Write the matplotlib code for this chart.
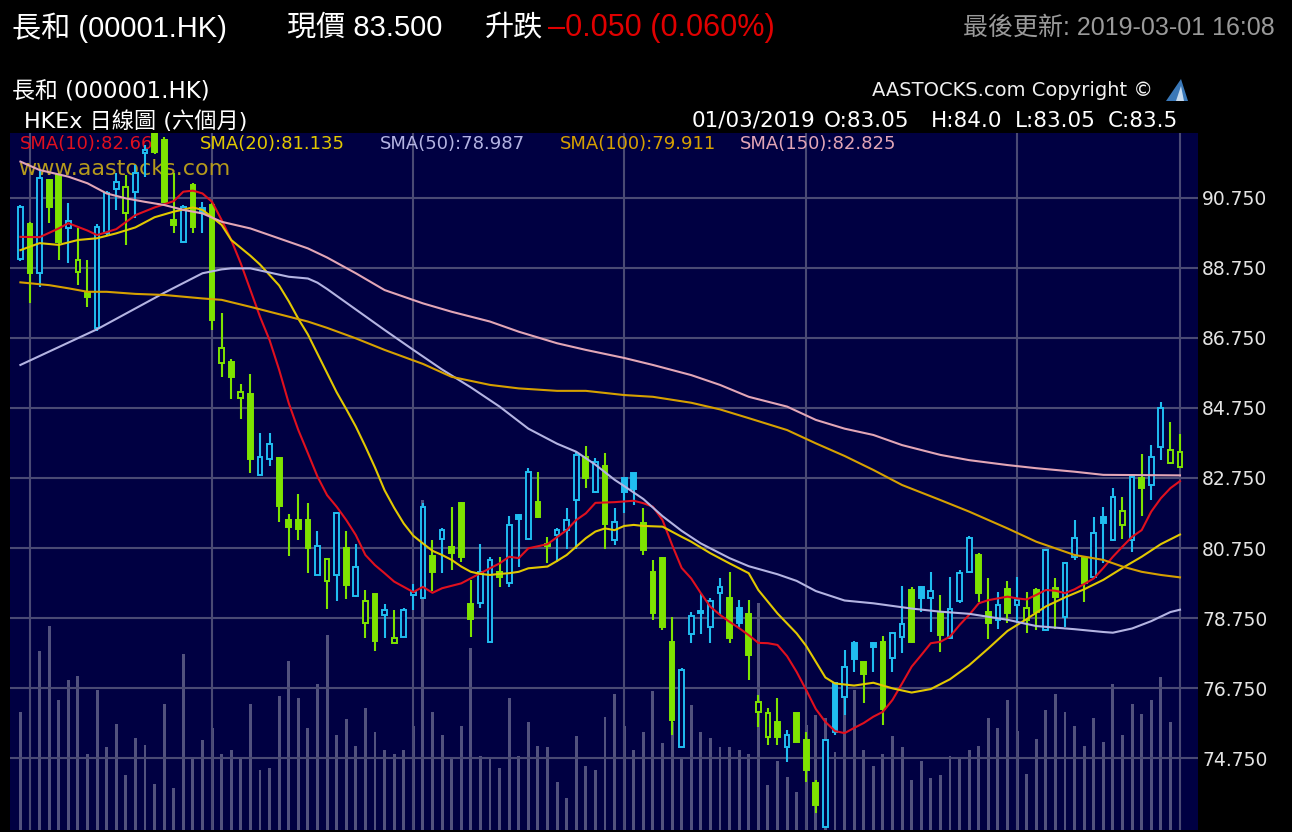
import matplotlib
matplotlib.use("Agg")
import matplotlib.pyplot as plt
from matplotlib.patches import Polygon

# daily candles 31/08/2018 .. 01/03/2019
opens = [
    89.00, 90.00, 88.60, 91.26, 91.41, 89.90, 88.64, 88.07, 87.03, 89.74,
    91.00, 90.31, 90.93, 92.03, 92.60, 92.41, 90.12, 89.50, 91.12, 90.46,
    90.55, 86.04, 86.07, 85.03, 85.15, 82.83, 83.29, 83.31, 81.55, 81.55,
    81.55, 79.98, 79.82, 79.98, 80.74, 79.38, 78.60, 79.43, 78.84, 78.03,
    78.22, 79.40, 79.31, 80.52, 81.01, 80.79, 82.04, 79.16, 79.17, 78.07,
    80.07, 79.74, 81.69, 81.00, 82.07, 80.86, 81.12, 81.26, 82.12, 83.36,
    82.36, 83.09, 80.98, 82.74, 82.88, 81.46, 80.07, 80.46, 78.07, 75.07,
    78.29, 78.95, 78.48, 79.46, 79.31, 79.03, 78.86, 76.07, 75.36, 75.79,
    75.07, 76.03, 75.26, 74.03, 72.79, 76.88, 76.50, 78.05, 77.49, 78.05,
    78.07, 77.60, 78.22, 79.55, 79.64, 79.31, 78.88, 78.17, 79.25, 80.07,
    80.55, 78.93, 78.69, 79.58, 79.12, 78.69, 79.55, 78.41, 79.61, 78.77,
    80.50, 80.46, 79.93, 81.64, 80.97, 81.41, 80.98, 82.74, 82.55, 83.64,
    83.17, 83.05,
]
highs = [
    90.55, 90.05, 91.55, 91.30, 91.45, 90.60, 89.88, 88.98, 90.00, 90.95,
    91.45, 91.41, 91.69, 92.26, 92.70, 92.50, 91.46, 90.55, 91.17, 90.64,
    90.60, 87.46, 86.15, 85.44, 85.72, 84.04, 84.04, 83.35, 81.72, 82.28,
    82.05, 81.25, 80.44, 81.76, 81.25, 80.86, 79.55, 79.43, 79.15, 78.98,
    79.05, 79.72, 82.04, 80.98, 81.33, 81.93, 82.06, 79.84, 80.86, 80.48,
    80.50, 81.66, 81.72, 83.03, 82.93, 81.07, 81.31, 81.88, 83.50, 83.66,
    83.31, 83.47, 81.88, 82.74, 82.90, 81.88, 80.41, 80.50, 78.79, 77.31,
    78.93, 79.46, 79.31, 79.88, 80.07, 79.26, 79.26, 76.55, 76.17, 76.46,
    75.55, 76.05, 75.50, 74.11, 75.30, 76.90, 77.84, 78.10, 77.50, 78.07,
    78.24, 78.36, 79.66, 79.64, 79.66, 80.07, 79.41, 79.93, 80.12, 81.08,
    80.60, 79.88, 79.50, 79.82, 79.93, 79.50, 79.60, 80.72, 79.89, 80.36,
    81.55, 80.50, 81.64, 81.93, 82.46, 82.22, 82.80, 83.44, 83.69, 84.93,
    84.36, 84.00,
]
lows = [
    88.95, 87.74, 88.22, 90.03, 88.98, 88.90, 88.26, 87.64, 86.95, 89.70,
    90.40, 89.41, 90.17, 91.36, 92.00, 90.60, 89.74, 89.45, 89.74, 89.74,
    86.98, 85.64, 85.00, 84.43, 82.88, 82.83, 83.09, 81.50, 80.52, 80.98,
    80.03, 79.98, 79.00, 79.23, 79.28, 79.34, 78.19, 77.81, 78.19, 78.03,
    78.20, 78.98, 79.31, 79.51, 80.03, 80.12, 80.36, 78.21, 79.03, 78.07,
    79.65, 79.65, 80.22, 81.00, 81.60, 80.31, 80.36, 80.73, 80.73, 82.46,
    82.31, 80.73, 80.84, 81.74, 81.98, 80.55, 78.69, 78.41, 75.41, 75.07,
    78.03, 78.30, 78.03, 78.84, 78.03, 78.46, 76.98, 75.64, 75.13, 75.13,
    74.64, 75.20, 74.07, 73.17, 72.78, 75.41, 75.98, 77.22, 76.31, 77.22,
    75.68, 77.22, 77.74, 78.03, 78.93, 78.35, 77.79, 78.17, 79.17, 80.03,
    79.22, 78.16, 78.43, 78.60, 78.60, 78.31, 78.41, 78.38, 78.44, 78.48,
    80.41, 79.22, 79.88, 80.31, 80.95, 81.00, 80.64, 81.66, 82.12, 83.26,
    83.15, 83.05,
]
closes = [
    90.50, 88.60, 91.31, 90.50, 89.50, 90.10, 88.98, 87.92, 89.93, 90.88,
    91.22, 91.07, 91.46, 92.13, 92.05, 90.64, 89.98, 90.50, 89.93, 90.31,
    87.26, 86.46, 85.64, 85.22, 83.30, 83.35, 83.71, 81.96, 81.34, 81.29,
    80.75, 80.80, 80.44, 81.76, 79.69, 80.22, 79.25, 78.09, 78.98, 78.17,
    78.98, 79.50, 81.93, 80.07, 81.26, 80.60, 80.50, 78.73, 80.07, 80.41,
    79.93, 81.41, 81.57, 82.93, 81.64, 80.82, 81.26, 81.55, 83.41, 82.74,
    83.22, 81.45, 81.50, 82.36, 82.45, 80.69, 78.88, 78.50, 75.84, 77.26,
    78.81, 78.90, 79.25, 79.64, 78.17, 78.60, 77.69, 76.36, 76.03, 75.35,
    75.40, 75.22, 74.41, 73.41, 75.26, 75.49, 77.36, 77.57, 77.15, 77.93,
    76.16, 78.31, 78.58, 78.07, 79.31, 79.53, 78.26, 79.00, 80.04, 81.03,
    79.46, 78.60, 79.12, 78.90, 79.26, 79.03, 78.93, 80.69, 79.36, 80.31,
    81.03, 79.74, 81.19, 81.46, 82.22, 81.82, 82.77, 82.47, 83.36, 84.74,
    83.55, 83.50,
]
# volume, million shares
volumes = [
    8.4, 11.4, 12.8, 14.6, 9.3, 10.7, 11.0, 5.4, 10.0, 5.9,
    7.6, 3.9, 6.6, 6.1, 3.3, 9.0, 3.0, 12.6, 5.1, 6.4,
    7.3, 5.4, 5.7, 5.1, 9.0, 4.3, 4.4, 9.6, 12.1, 9.4,
    7.3, 10.4, 13.9, 6.8, 7.9, 6.0, 8.7, 7.0, 5.7, 5.4,
    5.7, 7.4, 23.6, 8.4, 6.8, 5.1, 7.4, 13.0, 5.3, 5.1,
    4.4, 9.4, 5.3, 7.7, 6.0, 5.9, 3.4, 2.3, 6.7, 4.6,
    4.3, 8.1, 9.7, 7.4, 5.7, 7.0, 9.9, 6.2, 7.7, 5.2,
    8.9, 7.0, 6.6, 5.9, 5.9, 5.7, 5.4, 16.2, 3.2, 4.9,
    3.8, 2.7, 7.5, 8.2, 8.0, 5.6, 9.9, 10.0, 5.7, 4.6,
    5.4, 6.7, 5.9, 3.6, 4.9, 3.7, 3.9, 5.3, 5.1, 5.7,
    6.0, 8.0, 7.3, 9.3, 7.1, 4.0, 6.5, 8.6, 9.7, 8.4,
    7.4, 6.0, 8.0, 6.3, 10.4, 6.8, 9.0, 8.3, 9.3, 10.9,
    7.7, 5.9,
]

# moving averages, sampled by day index
sma10_idx = [0, 2, 4, 5, 7, 8, 10, 12, 14, 16, 17, 18, 19, 20, 21, 22, 23, 24, 25, 26,
             27, 28, 29, 30, 31, 32, 33, 34, 35, 36, 37, 38, 39, 40, 41, 42, 43, 44, 46, 48,
             50, 51, 52, 53, 55, 57, 58, 59, 60, 62, 64, 65, 66, 67, 68, 69, 70, 71, 72, 73,
             74, 75, 76, 77, 78, 79, 80, 81, 82, 83, 84, 85, 86, 87, 88, 89, 90, 91, 92, 93,
             94, 95, 96, 97, 98, 99, 100, 101, 102, 103, 104, 105, 106, 107, 108, 109, 110, 111, 112, 113,
             114, 115, 116, 117, 118, 119, 120, 121]
sma10_val = [89.64, 89.63, 89.88, 90.03, 89.82, 89.69, 89.86, 90.26, 90.48, 90.66, 90.93, 90.96, 90.88, 90.64, 90.12, 89.55, 88.88, 88.12, 87.36, 86.69,
             85.84, 84.89, 84.12, 83.46, 82.79, 82.26, 81.93, 81.55, 81.12, 80.55, 80.26, 80.03, 79.79, 79.64, 79.49, 79.64, 79.47, 79.60, 79.74, 80.03,
             80.31, 80.50, 80.46, 80.74, 80.86, 81.26, 81.55, 81.74, 82.04, 82.06, 82.10, 82.03, 81.93, 81.55, 80.84, 80.18, 79.88, 79.46, 79.07, 78.84,
             78.64, 78.46, 78.26, 78.04, 78.03, 77.98, 77.66, 77.21, 76.69, 76.15, 75.78, 75.52, 75.46, 75.61, 75.75, 75.93, 76.07, 76.41, 76.88, 77.36,
             77.69, 78.03, 78.07, 78.22, 78.55, 78.84, 79.17, 79.26, 79.31, 79.36, 79.31, 79.28, 79.41, 79.55, 79.53, 79.46, 79.57, 79.72, 79.88, 80.18,
             80.50, 80.79, 81.07, 81.26, 81.79, 82.17, 82.46, 82.66]

sma20_idx = [0, 2, 4, 6, 8, 10, 12, 14, 16, 18, 19, 20, 21, 22, 24, 25, 27, 28, 29, 30,
             31, 32, 33, 34, 35, 36, 37, 38, 39, 40, 41, 42, 43, 44, 45, 46, 47, 48, 49, 50,
             51, 52, 53, 55, 56, 57, 58, 59, 60, 61, 62, 63, 64, 65, 67, 69, 70, 72, 74, 76,
             77, 79, 81, 82, 83, 84, 85, 87, 89, 91, 93, 95, 97, 99, 101, 103, 105, 107, 109, 111,
             113, 115, 117, 119, 121]
sma20_val = [89.26, 89.46, 89.41, 89.55, 89.60, 89.74, 89.91, 90.20, 90.36, 90.48, 90.41, 90.20, 89.98, 89.55, 89.10, 88.85, 88.25, 87.80, 87.30, 86.85,
             86.30, 85.75, 85.20, 84.72, 84.22, 83.65, 83.05, 82.40, 81.90, 81.45, 81.10, 80.88, 80.67, 80.55, 80.41, 80.22, 80.07, 80.01, 79.98, 80.01,
             80.03, 80.07, 80.17, 80.22, 80.38, 80.55, 80.79, 81.03, 81.22, 81.31, 81.26, 81.38, 81.41, 81.38, 81.36, 81.07, 80.93, 80.60, 80.31, 80.03,
             79.55, 78.88, 78.31, 77.95, 77.50, 77.05, 76.88, 76.82, 76.90, 76.74, 76.62, 76.72, 77.00, 77.40, 77.88, 78.38, 78.72, 79.08, 79.34, 79.57,
             79.84, 80.18, 80.50, 80.86, 81.135]

sma50_idx = [0, 8, 15, 19, 21, 22, 24, 26, 28, 30, 31, 32, 34, 38, 41, 44, 47, 50, 53, 56,
             58, 60, 62, 63, 65, 67, 69, 71, 74, 76, 79, 81, 83, 86, 89, 93, 96, 99, 103, 106,
             110, 113, 114, 116, 118, 120, 121]
sma50_val = [85.98, 87.00, 88.04, 88.60, 88.71, 88.74, 88.74, 88.62, 88.50, 88.45, 88.33, 88.15, 87.76, 86.98, 86.41, 85.85, 85.34, 84.79, 84.16, 83.73,
             83.50, 83.13, 82.70, 82.52, 82.15, 81.66, 81.24, 80.88, 80.46, 80.23, 80.00, 79.81, 79.52, 79.25, 79.17, 79.02, 78.93, 78.87, 78.70, 78.52,
             78.43, 78.35, 78.33, 78.45, 78.66, 78.92, 78.987]

sma100_idx = [0, 3, 5, 7, 9, 12, 15, 19, 21, 24, 26, 28, 30, 32, 35, 38, 42, 45, 49, 52,
              56, 59, 63, 66, 70, 73, 76, 80, 83, 86, 89, 92, 96, 99, 103, 106, 110, 113, 115, 117,
              119, 121]
sma100_val = [88.34, 88.26, 88.17, 88.07, 88.07, 88.01, 87.98, 87.88, 87.84, 87.64, 87.50, 87.36, 87.22, 87.04, 86.74, 86.41, 86.01, 85.64, 85.41, 85.31,
              85.24, 85.24, 85.12, 85.07, 84.90, 84.71, 84.46, 84.12, 83.74, 83.38, 82.98, 82.55, 82.12, 81.79, 81.31, 80.93, 80.55, 80.41, 80.22, 80.07,
              79.98, 79.911]

sma150_idx = [0, 2, 5, 7, 9, 11, 13, 15, 17, 19, 21, 24, 26, 28, 30, 32, 35, 38, 42, 45,
              49, 52, 56, 59, 63, 66, 70, 73, 76, 80, 83, 86, 89, 92, 96, 99, 103, 106, 110, 113,
              121]
sma150_val = [91.79, 91.55, 91.36, 91.17, 90.88, 90.74, 90.64, 90.55, 90.41, 90.31, 90.07, 89.88, 89.69, 89.50, 89.31, 89.05, 88.60, 88.12, 87.74, 87.50,
              87.22, 86.93, 86.60, 86.41, 86.18, 85.98, 85.69, 85.41, 85.07, 84.79, 84.41, 84.16, 83.98, 83.69, 83.41, 83.26, 83.12, 83.03, 82.93, 82.84,
              82.825]

price_ticks = [74.75, 76.75, 78.75, 80.75, 82.75, 84.75, 86.75, 88.75, 90.75]
month_start_idx = [1, 20, 41, 63, 82, 104, 121]

sma_labels = ["SMA(10):82.66", "SMA(20):81.135", "SMA(50):78.987", "SMA(100):79.911", "SMA(150):82.825"]

W, H = 1292, 832
NAVY = "#000042"
CYAN = "#20bdf0"
LIME = "#7ee300"
GRID = "#4a4a74"
VOL_GRAY = "#52527e"
SMA_COLORS = ["#e0101e", "#e2c800", "#b4b4e2", "#d6a000", "#e2a6b6"]
HEAD_FONT = ["Liberation Sans", "Noto Sans CJK TC"]
CHART_FONT = ["DejaVu Sans", "Noto Sans CJK TC"]


def fx(x):
    return x / W


def fy(y):
    return 1 - y / H


def draw_candles(ax):
    for i in range(len(closes)):
        o, h, l, c = opens[i], highs[i], lows[i], closes[i]
        up = i == 0 or c >= closes[i - 1]
        color = CYAN if up else LIME
        ax.vlines(i, l, h, color=color, lw=1.5, zorder=3)
        face = color if c < o else NAVY
        ax.bar(i, max(abs(c - o), 0.04), bottom=min(o, c), width=0.5,
               facecolor=face, edgecolor=color, lw=1.4, zorder=4)


fig = plt.figure(figsize=(W / 100, H / 100), dpi=100, facecolor="black")
rect = [fx(10), fy(830), (1198 - 10) / W, (830 - 133) / H]

ax_vol = fig.add_axes(rect)
ax_vol.set_facecolor(NAVY)
ax_vol.bar(range(len(volumes)), volumes, width=0.3, color=VOL_GRAY)
ax_vol.set_xlim(-1.085, 122.88)
ax_vol.set_ylim(0, 697 / 14)
ax_vol.set_xticks([])
ax_vol.set_yticks([])

ax = fig.add_axes(rect)
ax.set_facecolor("none")
ax.set_xlim(-1.085, 122.88)
ax.set_ylim(72.693, 92.607)
ax.set_xticks(month_start_idx)
ax.set_yticks(price_ticks)
ax.set_yticklabels([f"{t:.3f}" for t in price_ticks])
ax.yaxis.tick_right()
ax.tick_params(axis="x", length=0, labelbottom=False)
ax.tick_params(axis="y", length=0, pad=3, labelsize=13.5, labelcolor="#e4e4e4")
for lab in ax.get_yticklabels():
    lab.set_fontfamily(CHART_FONT)
ax.grid(True, color=GRID, lw=1.5)
ax.set_axisbelow(True)
for a in (ax, ax_vol):
    for s in a.spines.values():
        s.set_visible(False)

draw_candles(ax)
for idx, val, col in zip([sma10_idx, sma20_idx, sma50_idx, sma100_idx, sma150_idx],
                         [sma10_val, sma20_val, sma50_val, sma100_val, sma150_val], SMA_COLORS):
    ax.plot(idx, val, color=col, lw=1.5, zorder=5)

# texts inside the plot
ax.annotate("www.aastocks.com", xy=(fx(18), fy(169)), xycoords="figure fraction", va="center",
            fontsize=16, color="#b59a1c", family=CHART_FONT, zorder=1.5, annotation_clip=False)
for label, x0, col in zip(sma_labels, [20, 200, 380, 560, 740], SMA_COLORS):
    ax.annotate(label, xy=(fx(x0), fy(144)), xycoords="figure fraction", va="center",
                fontsize=13, color=col, family=CHART_FONT, zorder=2, annotation_clip=False)

# page header
fig.text(fx(12), fy(28), "長和 (00001.HK)", color="white", fontsize=21, family=HEAD_FONT, va="center")
fig.text(fx(287), fy(28), "現價 83.500", color="white", fontsize=21, family=HEAD_FONT, va="center")
fig.text(fx(485), fy(28), "升跌", color="white", fontsize=21, family=HEAD_FONT, va="center")
fig.text(fx(548), fy(28), "–0.050 (0.060%)", color="#e00000", fontsize=22, family=HEAD_FONT, va="center")
fig.text(fx(1275), fy(28), "最後更新: 2019-03-01 16:08", color="#9a9a9a", fontsize=18,
         family=HEAD_FONT, va="center", ha="right")

# chart header
fig.text(fx(12), fy(92), "長和 (000001.HK)", color="white", fontsize=16.5, family=CHART_FONT, va="center")
fig.text(fx(1153), fy(91), "AASTOCKS.com Copyright ©", color="#f0f0f0", fontsize=14,
         family=CHART_FONT, va="center", ha="right")
fig.add_artist(Polygon([(fx(1166), fy(101)), (fx(1181), fy(79)), (fx(1188), fy(101))],
                       closed=True, transform=fig.transFigure, facecolor="#3a78b8", edgecolor="none"))
fig.add_artist(Polygon([(fx(1176), fy(101)), (fx(1181), fy(86)), (fx(1184), fy(101))],
                       closed=True, transform=fig.transFigure, facecolor="#c8dcf0", edgecolor="none"))
fig.text(fx(24), fy(121), "HKEx 日線圖 (六個月)", color="white", fontsize=16, family=CHART_FONT, va="center")
for txt, x0 in zip(["01/03/2019", "O:83.05", "H:84.0", "L:83.05", "C:83.5"], [692, 824, 931, 1015, 1108]):
    fig.text(fx(x0), fy(121), txt, color="white", fontsize=15.5, family=CHART_FONT, va="center")

fig.savefig("out.png", dpi=100, facecolor="black")
plt.close(fig)
